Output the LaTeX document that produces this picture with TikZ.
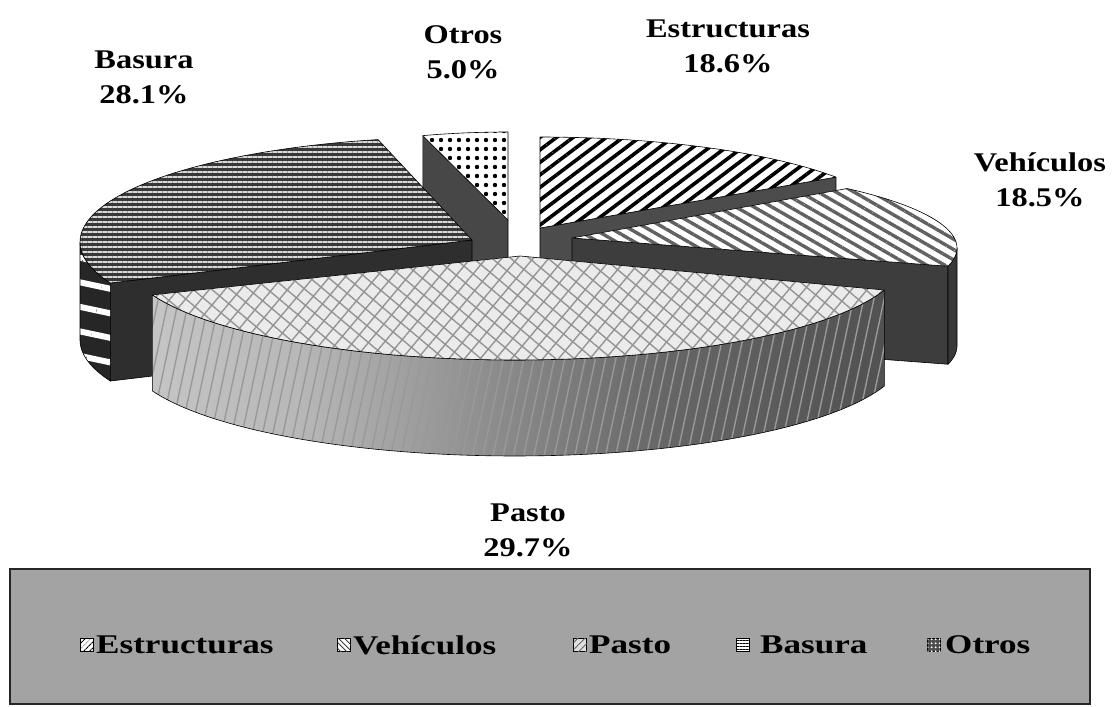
\documentclass[tikz,border=0pt]{standalone}
\usepackage{fontspec}
\setmainfont{Liberation Serif}
\newfontfamily\labfont[FakeStretch=1.2]{Liberation Serif}
\newfontfamily\legfont[FakeStretch=1.3]{Liberation Serif}
\usetikzlibrary{patterns.meta}
\pgfdeclarehorizontalshading{pastoside}{100bp}{color(0bp)=(black!10); color(35bp)=(black!28); color(60bp)=(black!60); color(100bp)=(black!82)}
\tikzset{
  outl/.style={postaction={draw=black,line width=0.6pt,line join=round}},
  darkface/.style={fill=black!#1,outl},
  esttop/.style={fill=white,postaction={pattern color=black,pattern={Lines[angle=37,distance=10pt,line width=3.6pt]}},outl},
  vehtop/.style={fill=white,postaction={pattern color=black!62,pattern={Lines[angle=-30,distance=9pt,line width=3.4pt]}},outl},
  pastop/.style={fill=black!8,postaction={pattern color=black!42,pattern={Hatch[angle=50,distance=12pt,line width=1.4pt]}},outl},
  basup/.style={fill=black!78,postaction={pattern color=white!85!black,pattern={Lines[angle=0,distance=5pt,line width=1.3pt]}},outl},
  basside/.style={fill=black!85,postaction={pattern color=white,pattern={Lines[angle=-12,distance=24pt,line width=6pt]}},outl},
  otrtop/.style={fill=white,postaction={pattern color=black,pattern={Dots[radius=2.2pt,distance=9pt]}},outl},
  lab/.style={font={\labfont\bfseries\fontsize{27pt}{35pt}\selectfont},align=center,inner sep=0pt},
  legtxt/.style={font={\legfont\bfseries\fontsize{27pt}{32pt}\selectfont},anchor=west,inner sep=0pt},
  icon/.style={draw=black,line width=0.6pt,minimum size=13pt,inner sep=0pt},
}
\begin{document}
\begin{tikzpicture}[x=1pt,y=-1pt]
\useasboundingbox (0,0) rectangle (1112,707);
% ---------- Otros ----------
\path[darkface=72] (508,220) -- ({508+300*cos(106.5)},{220-88*sin(106.5)}) -- ({508+300*cos(106.5)},{318-88*sin(106.5)}) -- (508,318) -- cycle;
\path[otrtop] (508,220) -- plot[domain=90:106.5,samples=20] ({508+300*cos(\x)},{220-88*sin(\x)}) -- cycle;
% ---------- Estructuras ----------
\path[darkface=70] (540,228) -- ({540+357*cos(34)},{228-91*sin(34)}) -- ({540+357*cos(34)},{326-91*sin(34)}) -- (540,326) -- cycle;
\path[esttop] (540,228) -- plot[domain=90:34,samples=40] ({540+357*cos(\x)},{228-91*sin(\x)}) -- cycle;
% ---------- Basura ----------
\path[darkface=82] (472,240) -- ({462+382*cos(203)},{242-105*sin(203)}) -- ({462+382*cos(203)},{340-105*sin(203)}) -- (472,338) -- cycle;
\path[basside] plot[domain=180:203,samples=15] ({462+382*cos(\x)},{242-105*sin(\x)}) -- plot[domain=203:180,samples=15] ({462+382*cos(\x)},{340-105*sin(\x)}) -- cycle;
\path[basup] (472,240) -- plot[domain=102.7:203,samples=60] ({462+382*cos(\x)},{242-105*sin(\x)}) -- cycle;
% ---------- Vehiculos ----------
\path[darkface=76] (572,238) -- ({572+385*cos(-12.4)},{248-85*sin(-12.4)}) -- ({572+385*cos(-12.4)},{346-85*sin(-12.4)}) -- (572,336) -- cycle;
\path[darkface=78] plot[domain=0:-12.4,samples=15] ({572+385*cos(\x)},{248-85*sin(\x)}) -- plot[domain=-12.4:0,samples=15] ({572+385*cos(\x)},{346-85*sin(\x)}) -- cycle;
\path[vehtop] (572,238) -- plot[domain=44.4:-12.4,samples=50] ({572+385*cos(\x)},{248-85*sin(\x)}) -- cycle;
% ---------- Pasto ----------
\shade[shading=pastoside,postaction={pattern color=black!40,pattern={Lines[angle=78,distance=10pt,line width=1.4pt]}},outl] plot[domain=201.2:341.7,samples=80] ({515+389*cos(\x)},{258-102*sin(\x)}) -- plot[domain=341.7:201.2,samples=80] ({515+389*cos(\x)},{354-102*sin(\x)}) -- cycle;
\path[pastop] (520,256) -- plot[domain=201.2:341.7,samples=80] ({515+389*cos(\x)},{258-102*sin(\x)}) -- cycle;
% ---------- labels ----------
\node[lab] (lbas) at (144,77) {Basura\\28.1\%};
\node[lab] (lotr) at (463,52) {Otros\\5.0\%};
\node[lab] (lest) at (728,46) {Estructuras\\18.6\%};
\node[lab] (lveh) at (1040,180) {Vehículos\\18.5\%};
\node[lab] (lpas) at (528,530) {Pasto\\29.7\%};
% ---------- legend ----------
\path[fill=black!36,draw=black!85,line width=1.5pt] (10,569) rectangle (1090,704);
\node[icon,fill=white,postaction={pattern color=black,pattern={Lines[angle=45,distance=4pt,line width=1.2pt]}}] (ie) at (87,645) {};
\node[legtxt] (te) at (96,645) {Estructuras};
\node[icon,fill=white,postaction={pattern color=black!75,pattern={Lines[angle=-45,distance=4pt,line width=1.2pt]}}] (iv) at (344,645) {};
\node[legtxt] (tv) at (353,645) {Vehículos};
\node[icon,fill=black!12,postaction={pattern color=black!60,pattern={Lines[angle=45,distance=5pt,line width=0.9pt]}}] (ip) at (580,645) {};
\node[legtxt] (tp) at (589,645) {Pasto};
\node[icon,fill=white,postaction={pattern color=black,pattern={Lines[angle=0,distance=3pt,line width=1pt]}}] (ib) at (743,645) {};
\node[legtxt] (tb) at (760,645) {Basura};
\node[icon,fill=black!70,postaction={pattern color=white,pattern={Dots[radius=1.2pt,distance=4pt]}}] (io) at (934,645) {};
\node[legtxt] (to) at (945,645) {Otros};
\end{tikzpicture}
\end{document}
